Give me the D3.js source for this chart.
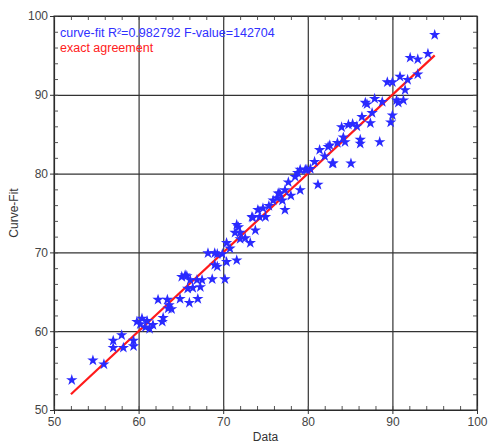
<!DOCTYPE html>
<html>
<head>
<meta charset="utf-8">
<script src="https://cdn.jsdelivr.net/npm/d3@7"></script>
<style>
  body { margin: 0; background: #fff; }
  svg { display: block; font-family: "Liberation Sans", Arial, sans-serif; }
</style>
</head>
<body>
<div id="chart"></div>
<script>
const dataValues = [52.1, 54.6, 55.9, 57.0, 57.0, 58.0, 58.2, 59.4, 59.4, 59.8,
  60.4, 60.8, 60.2, 61.0, 61.7, 61.3, 62.3, 62.9, 62.8, 63.4,
  63.5, 63.9, 63.6, 64.9, 65.1, 65.5, 65.7, 65.8, 66.1, 66.0,
  66.4, 66.9, 67.0, 67.3, 67.5, 68.2, 68.7, 69.0, 69.0, 69.3,
  69.3, 69.9, 70.2, 70.4, 70.4, 70.8, 71.4, 71.6, 71.6, 71.8,
  72.0, 72.0, 72.6, 73.2, 73.4, 73.5, 73.8, 74.1, 74.3, 74.7,
  75.0, 75.4, 75.9, 76.4, 76.5, 76.7, 77.0, 77.3, 77.3, 77.7,
  78.0, 78.5, 78.8, 79.1, 79.1, 79.7, 79.9, 80.3, 80.8, 81.2,
  81.4, 82.0, 82.4, 82.6, 82.9, 83.0, 83.5, 84.0, 84.2, 84.4,
  84.8, 85.1, 85.3, 85.8, 86.2, 86.2, 86.4, 86.8, 87.0, 87.4,
  87.6, 87.9, 88.5, 88.8, 89.4, 89.8, 90.0, 90.0, 90.5, 90.7,
  90.9, 91.3, 91.5, 91.8, 92.1, 93.0, 93.0, 94.2, 95.0];
const fitValues = [53.8, 56.3, 55.8, 58.8, 57.9, 59.5, 57.9, 58.8, 58.1, 61.2,
  61.6, 60.5, 60.9, 61.3, 60.8, 60.3, 64.0, 61.7, 61.2, 64.0,
  62.9, 62.8, 63.3, 64.1, 66.9, 67.1, 67.0, 65.4, 66.5, 63.6,
  65.5, 66.5, 64.1, 65.6, 66.5, 69.9, 66.6, 68.4, 69.9, 69.8,
  68.2, 69.8, 66.6, 68.8, 71.2, 70.5, 72.5, 69.0, 73.5, 73.2,
  71.7, 72.5, 71.8, 71.2, 74.5, 74.4, 72.8, 75.4, 74.5, 75.6,
  74.5, 75.9, 76.6, 76.9, 77.5, 77.5, 76.6, 75.4, 77.9, 78.9,
  77.2, 79.6, 80.1, 80.5, 77.9, 80.5, 80.5, 80.6, 81.5, 78.6,
  83.0, 82.2, 83.4, 83.6, 81.3, 81.3, 83.9, 85.9, 84.6, 84.0,
  86.2, 81.3, 86.3, 86.0, 84.3, 83.8, 87.2, 89.0, 88.8, 86.4,
  87.7, 89.5, 84.0, 89.1, 91.6, 86.5, 91.6, 87.4, 89.3, 89.0,
  92.3, 89.3, 90.6, 91.9, 94.7, 94.5, 92.6, 95.2, 97.6];
// line of exact agreement (y = x) over the data range
const agreementLine = [52, 95];
const majorTicks = [50, 60, 70, 80, 90, 100];
const minorTicks = d3.range(50, 101, 2);
const legendLines = ["curve-fit R\u00b2=0.982792 F-value=142704", "exact agreement"];

const width = 490, height = 444;
const margin = {top: 16, right: 13, bottom: 34, left: 54};
const innerW = width - margin.left - margin.right;
const innerH = height - margin.top - margin.bottom;

const svg = d3.select("#chart").append("svg")
  .attr("width", width)
  .attr("height", height);

const plot = svg.append("g")
  .attr("transform", `translate(${margin.left},${margin.top})`);

const x = d3.scaleLinear().domain([50, 100]).range([0, innerW]);
const y = d3.scaleLinear().domain([50, 100]).range([innerH, 0]);

// grid lines
plot.append("g")
  .attr("class", "grid")
  .attr("transform", `translate(0,${innerH})`)
  .call(d3.axisBottom(x).tickValues(majorTicks).tickSize(-innerH).tickFormat(""));
plot.append("g")
  .attr("class", "grid")
  .call(d3.axisLeft(y).tickValues(majorTicks).tickSize(-innerW).tickFormat(""));
plot.selectAll(".grid .domain").remove();
plot.selectAll(".grid line").attr("stroke", "#333").attr("stroke-width", 1.2);

// inward minor ticks on every side
const tickLen = 4;
plot.append("g").attr("class", "minor")
  .attr("transform", `translate(0,${innerH})`)
  .call(d3.axisBottom(x).tickValues(minorTicks).tickSize(-tickLen).tickFormat(""));
plot.append("g").attr("class", "minor")
  .call(d3.axisTop(x).tickValues(minorTicks).tickSize(-tickLen).tickFormat(""));
plot.append("g").attr("class", "minor")
  .call(d3.axisLeft(y).tickValues(minorTicks).tickSize(-tickLen).tickFormat(""));
plot.append("g").attr("class", "minor")
  .attr("transform", `translate(${innerW},0)`)
  .call(d3.axisRight(y).tickValues(minorTicks).tickSize(-tickLen).tickFormat(""));
plot.selectAll(".minor .domain").remove();
plot.selectAll(".minor line").attr("stroke", "#555");

// labelled axes with outward major ticks
plot.append("g")
  .attr("class", "x axis")
  .attr("transform", `translate(0,${innerH})`)
  .call(d3.axisBottom(x).tickValues(majorTicks).tickSize(4).tickPadding(3));
plot.append("g")
  .attr("class", "y axis")
  .call(d3.axisLeft(y).tickValues(majorTicks).tickSize(4).tickPadding(2));
plot.selectAll(".axis .domain").remove();
plot.selectAll(".axis line").attr("stroke", "#333");
plot.selectAll(".axis text")
  .attr("fill", "#444")
  .style("font-size", "12px")
  .style("font-family", "\"Liberation Sans\", Arial, sans-serif");

// frame
plot.append("rect")
  .attr("width", innerW)
  .attr("height", innerH)
  .attr("fill", "none")
  .attr("stroke", "#222");

// exact agreement line
plot.append("line")
  .attr("x1", x(agreementLine[0]))
  .attr("y1", y(agreementLine[0]))
  .attr("x2", x(agreementLine[1]))
  .attr("y2", y(agreementLine[1]))
  .attr("stroke", "#ff1a1a")
  .attr("stroke-width", 2.2);

// data stars
const star = d3.symbol().type(d3.symbolStar).size(40);
plot.append("g")
  .selectAll("path")
  .data(dataValues)
  .enter()
  .append("path")
  .attr("d", star)
  .attr("transform", (d, i) => `translate(${x(d)},${y(fitValues[i])})`)
  .attr("fill", "#2a2aff");

// legend texts
plot.append("g")
  .selectAll("text")
  .data(legendLines)
  .enter()
  .append("text")
  .attr("x", 6)
  .attr("y", (d, i) => 21 + i * 15)
  .attr("fill", (d, i) => i === 0 ? "#3030ff" : "#ff2020")
  .style("font-size", "12.5px")
  .text(d => d);

// axis titles
svg.append("text")
  .attr("x", margin.left + innerW / 2)
  .attr("y", 441)
  .attr("text-anchor", "middle")
  .attr("fill", "#333")
  .style("font-size", "12px")
  .text("Data");
svg.append("text")
  .attr("transform", `translate(18,${margin.top + innerH / 2}) rotate(-90)`)
  .attr("text-anchor", "middle")
  .attr("fill", "#333")
  .style("font-size", "12px")
  .text("Curve-Fit");
</script>
</body>
</html>
